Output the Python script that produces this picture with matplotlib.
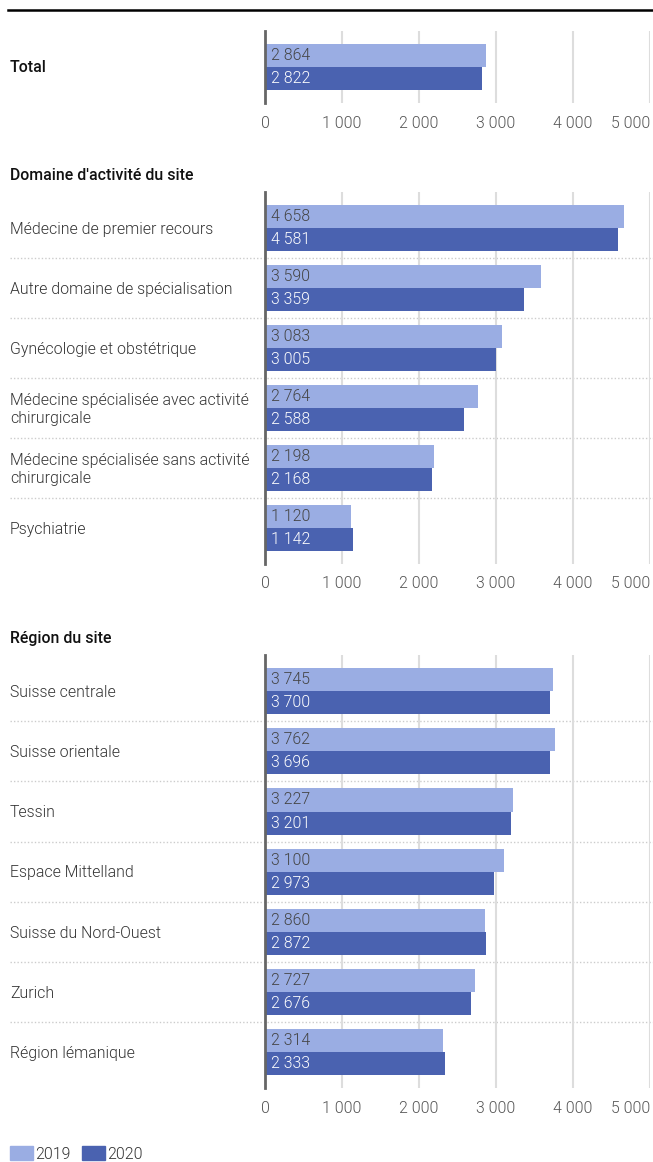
import matplotlib
matplotlib.use("Agg")
import matplotlib.pyplot as plt
from matplotlib.patches import Patch
from matplotlib.transforms import blended_transform_factory

plt.rcParams['font.family'] = ['Roboto', 'DejaVu Sans']

total_labels = ["Total"]
total_2019 = [2864]
total_2020 = [2822]

domaine_labels = ["Médecine de premier recours",
                  "Autre domaine de spécialisation",
                  "Gynécologie et obstétrique",
                  "Médecine spécialisée avec activité\nchirurgicale",
                  "Médecine spécialisée sans activité\nchirurgicale",
                  "Psychiatrie"]
domaine_2019 = [4658, 3590, 3083, 2764, 2198, 1120]
domaine_2020 = [4581, 3359, 3005, 2588, 2168, 1142]

region_labels = ["Suisse centrale", "Suisse orientale", "Tessin",
                 "Espace Mittelland", "Suisse du Nord-Ouest", "Zurich",
                 "Région lémanique"]
region_2019 = [3745, 3762, 3227, 3100, 2860, 2727, 2314]
region_2020 = [3700, 3696, 3201, 2973, 2872, 2676, 2333]

ticks = [0, 1000, 2000, 3000, 4000, 5000]
tick_labels = ["0", "1 000", "2 000", "3 000", "4 000", "5 000"]

c19 = "#9aade3"
c20 = "#4a62b0"
FS = 11.4
LIGHT = 300

W, H = 653, 1162
fig = plt.figure(figsize=(W / 100, H / 100), dpi=100)


def fmt(v):
    return f"{v:,}".replace(",", " ")


def panel(top, row_px, labels, v19, v20, draw_labels=True):
    n = len(labels)
    h = (n + 0.2) * row_px
    ax = fig.add_axes([265 / W, 1 - (top + h) / H, 385 / W, h / H])
    ax.set_xlim(0, 5000)
    ax.set_ylim(n - 0.4, -0.6)
    bh = 0.383
    ys = list(range(n))
    ax.barh([y - bh / 2 for y in ys], v19, height=bh, color=c19, zorder=2)
    ax.barh([y + bh / 2 for y in ys], v20, height=bh, color=c20, zorder=2)
    for y, a, b in zip(ys, v19, v20):
        ax.annotate(fmt(a), xy=(0, y - bh / 2), xytext=(4.5, 0),
                    textcoords="offset points", va="center", fontsize=FS,
                    fontweight=LIGHT, color="#444444", zorder=3)
        ax.annotate(fmt(b), xy=(0, y + bh / 2), xytext=(4.5, 0),
                    textcoords="offset points", va="center", fontsize=FS,
                    fontweight=LIGHT, color="white", zorder=3)
    tr = blended_transform_factory(fig.transFigure, ax.transData)
    if draw_labels:
        for y, lab in zip(ys, labels):
            ax.text(10 / W, y + 0.02, lab, transform=tr, va="center", ha="left",
                    fontsize=FS, fontweight=LIGHT, color="#333333",
                    linespacing=1.25)
    # dotted separators between rows, running under the labels too
    for y in ys[:-1]:
        ax.plot([10 / W, 1], [y + 0.5, y + 0.5], transform=tr, color="#cccccc",
                lw=1, ls=(0, (1, 1.5)), clip_on=False, zorder=1)
    ax.set_xticks(ticks)
    ax.set_xticklabels(tick_labels, fontweight=LIGHT)
    ax.get_xticklabels()[-1].set_ha("right")
    ax.tick_params(axis="x", length=0, pad=9, labelsize=FS, labelcolor="#555555")
    ax.set_yticks([])
    ax.grid(axis="x", color="#dddddd", lw=1.5, zorder=0)
    for s in ["top", "right", "bottom"]:
        ax.spines[s].set_visible(False)
    ax.spines["left"].set_color("#666666")
    ax.spines["left"].set_linewidth(2)
    ax.spines["left"].set_zorder(4)
    return ax


# top rule
fig.add_artist(plt.Line2D([8 / W, 1], [1 - 10 / H, 1 - 10 / H], color="black", lw=1.8))

panel(31, 60, total_labels, total_2019, total_2020, draw_labels=False)
fig.text(10 / W, 1 - 67 / H, "Total", fontsize=FS, weight="medium", va="center",
         color="#111111")

fig.text(10 / W, 1 - 176 / H, "Domaine d'activité du site", fontsize=FS,
         weight="medium", va="center", color="#111111")
panel(192, 60, domaine_labels, domaine_2019, domaine_2020)

fig.text(10 / W, 1 - 638 / H, "Région du site", fontsize=FS,
         weight="medium", va="center", color="#111111")
panel(655, 60.2, region_labels, region_2019, region_2020)

handles = [Patch(color=c19, label="2019"), Patch(color=c20, label="2020")]
leg = fig.legend(handles=handles, loc="lower left", bbox_to_anchor=(-4 / W, -14 / H),
                 ncol=2, frameon=False, fontsize=FS, handlelength=1.45,
                 handleheight=1.0, handletextpad=0.15, columnspacing=0.7,
                 labelcolor="#333333")
for t in leg.get_texts():
    t.set_fontweight(LIGHT)

fig.savefig("out.png", dpi=100)
